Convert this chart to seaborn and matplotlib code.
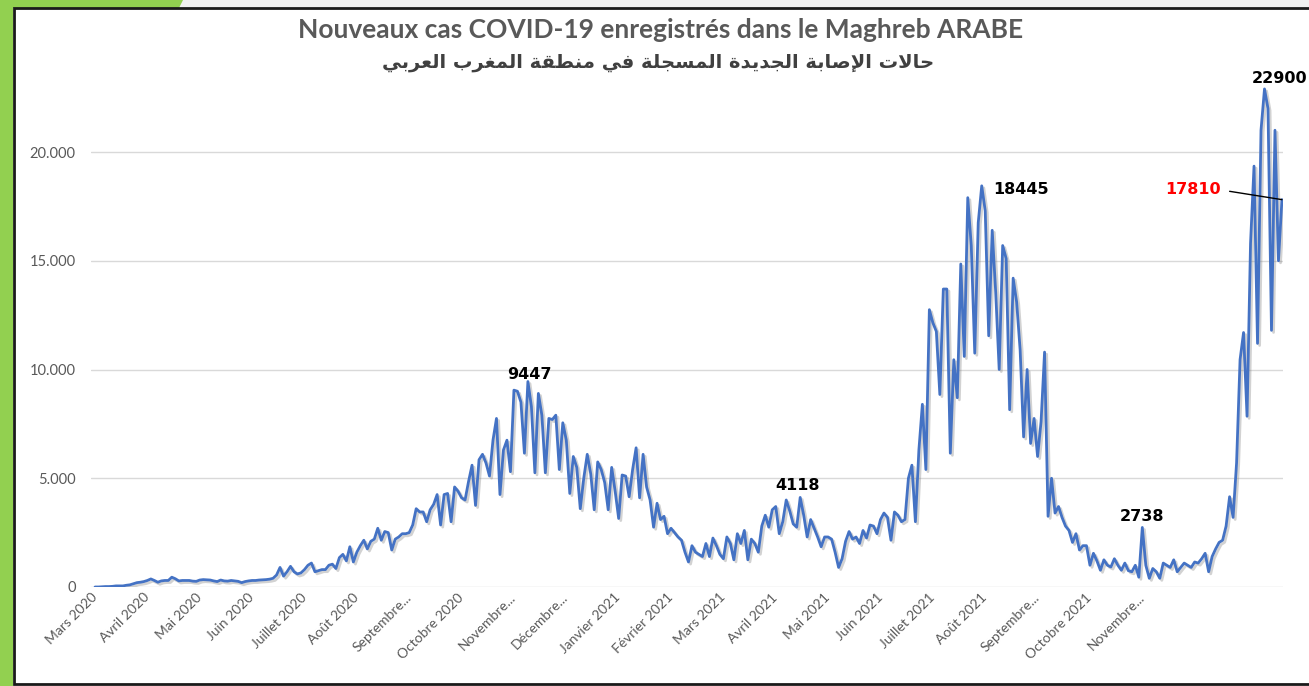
import numpy as np
import pandas as pd
import matplotlib
matplotlib.use("Agg")
import matplotlib.pyplot as plt
import matplotlib.patheffects as pe
from matplotlib.patches import Rectangle, Polygon
import seaborn as sns

# cas journaliers (en milliers), un point tous les 2 jours depuis mars 2020
cases_k = [
    0, 0, 0.01, 0.02, 0.02, 0.03, 0.05, 0.05, 0.05, 0.08,
    0.1, 0.15, 0.2, 0.22, 0.25, 0.3, 0.37, 0.3, 0.22, 0.28,
    0.3, 0.3, 0.45, 0.38, 0.28, 0.3, 0.3, 0.3, 0.27, 0.26,
    0.32, 0.34, 0.33, 0.32, 0.28, 0.25, 0.32, 0.28, 0.27, 0.3,
    0.28, 0.26, 0.2, 0.25, 0.28, 0.3, 0.3, 0.32, 0.33, 0.34,
    0.36, 0.4, 0.55, 0.9, 0.5, 0.7, 0.95, 0.7, 0.6, 0.65,
    0.8, 1.0, 1.1, 0.7, 0.75, 0.8, 0.8, 1.0, 1.05, 0.85,
    1.35, 1.5, 1.2, 1.85, 1.15, 1.6, 1.9, 2.15, 1.75, 2.1,
    2.2, 2.7, 2.15, 2.55, 2.5, 1.7, 2.2, 2.3, 2.45, 2.45,
    2.5, 2.85, 3.6, 3.45, 3.45, 3.0, 3.55, 3.8, 4.25, 2.85,
    4.25, 4.3, 3.0, 4.6, 4.4, 4.1, 4.0, 4.85, 5.6, 3.75,
    5.85, 6.1, 5.7, 5.1, 6.75, 7.75, 4.25, 6.3, 6.75, 5.3,
    9.05, 9.0, 8.5, 6.15, 9.447, 8.3, 5.25, 8.9, 7.9, 5.25,
    7.75, 7.7, 7.9, 5.4, 7.55, 6.75, 4.3, 6.0, 5.5, 3.6,
    5.0, 6.1, 5.2, 3.55, 5.75, 5.4, 4.8, 3.55, 5.5, 4.4,
    3.15, 5.15, 5.1, 4.15, 5.4, 6.4, 4.1, 6.1, 4.6, 4.0,
    2.75, 3.85, 3.1, 3.25, 2.45, 2.7, 2.5, 2.3, 2.15, 1.6,
    1.15, 1.9, 1.6, 1.5, 1.4, 2.0, 1.4, 2.25, 1.9, 1.5,
    1.3, 2.3, 2.0, 1.25, 2.45, 2.0, 2.6, 1.25, 2.2, 2.0,
    1.6, 2.8, 3.3, 2.75, 3.55, 3.7, 2.45, 3.0, 4.0, 3.5,
    2.9, 2.75, 4.118, 3.3, 2.3, 3.1, 2.7, 2.3, 1.85, 2.3,
    2.3, 2.2, 1.6, 0.9, 1.3, 2.1, 2.55, 2.2, 2.3, 2.0,
    2.6, 2.25, 2.85, 2.8, 2.45, 3.1, 3.4, 3.2, 2.15, 3.45,
    3.3, 3.0, 3.1, 5.0, 5.6, 3.0, 6.3, 8.4, 5.4, 12.75,
    12.15, 11.75, 8.85, 13.7, 13.7, 6.15, 10.45, 8.7, 14.85, 10.6,
    17.9, 15.7, 10.75, 16.75, 18.445, 17.3, 11.55, 16.4, 13.55, 10.0,
    15.7, 15.1, 8.15, 14.2, 13.1, 10.9, 6.9, 10.0, 6.6, 7.75,
    6.0, 7.6, 10.8, 3.25, 5.0, 3.4, 3.7, 3.2, 2.8, 2.6,
    2.05, 2.45, 1.7, 1.9, 1.9, 1.0, 1.55, 1.2, 0.77, 1.25,
    1.0, 0.92, 1.3, 1.0, 0.77, 1.1, 0.75, 0.7, 1.0, 0.45,
    2.738, 1.0, 0.4, 0.85, 0.7, 0.4, 1.1, 1.0, 0.9, 1.25,
    0.7, 0.9, 1.1, 1.0, 0.9, 1.15, 1.1, 1.3, 1.55, 0.7,
    1.4, 1.75, 2.05, 2.15, 2.8, 4.15, 3.2, 5.7, 10.45, 11.7,
    7.85, 15.8, 19.35, 11.2, 21.0, 22.9, 22.0, 11.8, 21.0, 15.0, 17.81,
]

month_labels = [
    "Mars 2020", "Avril 2020", "Mai 2020", "Juin 2020", "Juillet 2020",
    "Août 2020", "Septembre...", "Octobre 2020", "Novembre...", "Décembre...",
    "Janvier 2021", "Février 2021", "Mars 2021", "Avril 2021", "Mai 2021",
    "Juin 2021", "Juillet 2021", "Août 2021", "Septembre...", "Octobre 2021",
    "Novembre...",
]
label_every = 30  # jours entre deux étiquettes de l'axe

# valeurs annotées
peak_labels = [9447, 4118, 18445, 2738, 22900]
last_label = 17810

title_fr = "Nouveaux cas COVID-19 enregistrés dans le Maghreb ARABE"
title_ar = "حالات الإصابة الجديدة المسجلة في منطقة المغرب العربي"

# --- mise en forme de l'arabe (matplotlib ne fait pas le shaping) ---
AR_FORMS = {
    'ا': ('\ufe8d', '\ufe8e', None, None),
    'إ': ('\ufe87', '\ufe88', None, None),
    'ب': ('\ufe8f', '\ufe90', '\ufe91', '\ufe92'),
    'ة': ('\ufe93', '\ufe94', None, None),
    'ت': ('\ufe95', '\ufe96', '\ufe97', '\ufe98'),
    'ج': ('\ufe9d', '\ufe9e', '\ufe9f', '\ufea0'),
    'ح': ('\ufea1', '\ufea2', '\ufea3', '\ufea4'),
    'د': ('\ufea9', '\ufeaa', None, None),
    'ر': ('\ufead', '\ufeae', None, None),
    'س': ('\ufeb1', '\ufeb2', '\ufeb3', '\ufeb4'),
    'ص': ('\ufeb9', '\ufeba', '\ufebb', '\ufebc'),
    'ط': ('\ufec1', '\ufec2', '\ufec3', '\ufec4'),
    'ع': ('\ufec9', '\ufeca', '\ufecb', '\ufecc'),
    'غ': ('\ufecd', '\ufece', '\ufecf', '\ufed0'),
    'ف': ('\ufed1', '\ufed2', '\ufed3', '\ufed4'),
    'ق': ('\ufed5', '\ufed6', '\ufed7', '\ufed8'),
    'ل': ('\ufedd', '\ufede', '\ufedf', '\ufee0'),
    'م': ('\ufee1', '\ufee2', '\ufee3', '\ufee4'),
    'ن': ('\ufee5', '\ufee6', '\ufee7', '\ufee8'),
    'ي': ('\ufef1', '\ufef2', '\ufef3', '\ufef4'),
    'لا': ('\ufefb', '\ufefc', None, None),
    'لإ': ('\ufef9', '\ufefa', None, None),
}


def shape_arabic(text):
    words = []
    for word in text.split(' '):
        units, i = [], 0
        while i < len(word):
            if word[i:i + 2] in AR_FORMS:
                units.append(word[i:i + 2])
                i += 2
            else:
                units.append(word[i])
                i += 1
        out = []
        for j, u in enumerate(units):
            isol, fin, ini, med = AR_FORMS[u]
            join_prev = j > 0 and AR_FORMS[units[j - 1]][2] is not None
            join_next = j < len(units) - 1 and ini is not None
            if join_prev and join_next:
                out.append(med)
            elif join_prev:
                out.append(fin)
            elif join_next:
                out.append(ini)
            else:
                out.append(isol)
        words.append(''.join(out))
    return ' '.join(words)[::-1]


W, H = 1309, 686


def fx(x):
    return x / W


def fy(y):
    return 1 - y / H


sns.set_theme(style="white")
plt.rcParams['font.family'] = ['Lato', 'DejaVu Sans']

cases = np.array(cases_k) * 1000
df = pd.DataFrame({"jour": np.arange(len(cases)) * 2, "cas": cases})

fig = plt.figure(figsize=(W / 100, H / 100), dpi=100)
fig.patch.set_facecolor("white")

# cadre façon capture Excel (derrière les axes)
fig.add_artist(Rectangle((0, fy(8)), 1, 1 - fy(8), transform=fig.transFigure,
                         facecolor="#f0f0f0", edgecolor="none", zorder=-3))
fig.add_artist(Polygon([(0, 1), (fx(183), 1), (fx(179), fy(8)), (0, fy(8))],
                       closed=True, transform=fig.transFigure,
                       facecolor="#92d050", edgecolor="none", zorder=-3))
fig.add_artist(Rectangle((0, 0), fx(13), 1, transform=fig.transFigure,
                         facecolor="#92d050", edgecolor="none", zorder=-3))
fig.add_artist(Rectangle((fx(14), fy(684)), fx(1320) - fx(14), fy(8) - fy(684),
                         transform=fig.transFigure, facecolor="white",
                         edgecolor="#1a1a1a", linewidth=2, zorder=-2))

ax = fig.add_axes([fx(91), fy(587), (1283 - 91) / W, (587 - 86.75) / H])
ax.set_facecolor("none")

sns.lineplot(data=df, x="jour", y="cas", ax=ax, color="#4472c4", linewidth=2.0)
ax.lines[0].set_path_effects([
    pe.SimpleLineShadow(offset=(1.5, -1.5), shadow_color="#808080", alpha=0.35),
    pe.Normal(),
])

ax.set_xlim(-2.3, 680.6)
ax.set_ylim(0, 23000)
ax.set_xlabel("")
ax.set_ylabel("")

yt = [0, 5000, 10000, 15000, 20000]
ax.set_yticks(yt)
ax.set_yticklabels(["0" if v == 0 else f"{v:,.0f}".replace(",", ".") for v in yt],
                   fontsize=10.5, color="#595959")
ax.set_xticks(np.arange(len(month_labels)) * label_every)
ax.set_xticklabels(month_labels, rotation=45, ha="right", va="center",
                   rotation_mode="anchor", fontsize=10, color="#595959")
ax.tick_params(axis="y", length=0, pad=11)
ax.tick_params(axis="x", length=0, pad=6)
ax.yaxis.grid(True, color="#d9d9d9", linewidth=1)
ax.xaxis.grid(False)
for s in ax.spines.values():
    s.set_visible(False)

# étiquettes des pics
offsets = {9447: (1, 0, "center", "bottom"),
           4118: (-2, 3.5, "center", "bottom"),
           18445: (8, -3, "left", "center"),
           2738: (0, 2.5, "center", "bottom"),
           22900: (11, 2, "center", "bottom")}
for v in peak_labels:
    i = int(np.argmin(np.abs(cases - v)))
    dx, dy, ha, va = offsets[v]
    ax.annotate(str(v), xy=(df["jour"][i], cases[i]), xytext=(dx, dy),
                textcoords="offset points", ha=ha, va=va, fontsize=11.5,
                fontweight="bold", color="black", family="DejaVu Sans",
                annotation_clip=False)

ax.annotate(str(last_label), xy=(df["jour"].iloc[-1], cases[-1]),
            xytext=(-44, 7), textcoords="offset points", ha="right", va="center",
            fontsize=11.5, fontweight="bold", color="#ff0000", family="DejaVu Sans",
            arrowprops=dict(arrowstyle="-", color="black", lw=1, shrinkA=4,
                            shrinkB=0, relpos=(1, 0.5)),
            annotation_clip=False)

fig.text(fx(661), fy(30), title_fr, ha="center", va="center", fontsize=19,
         fontweight="bold", color="#595959")
fig.text(fx(658), fy(62), shape_arabic(title_ar), ha="center", va="center",
         fontsize=14, fontweight="bold", color="#404040", family="DejaVu Sans")

fig.savefig("out.png", dpi=100)
plt.close(fig)
